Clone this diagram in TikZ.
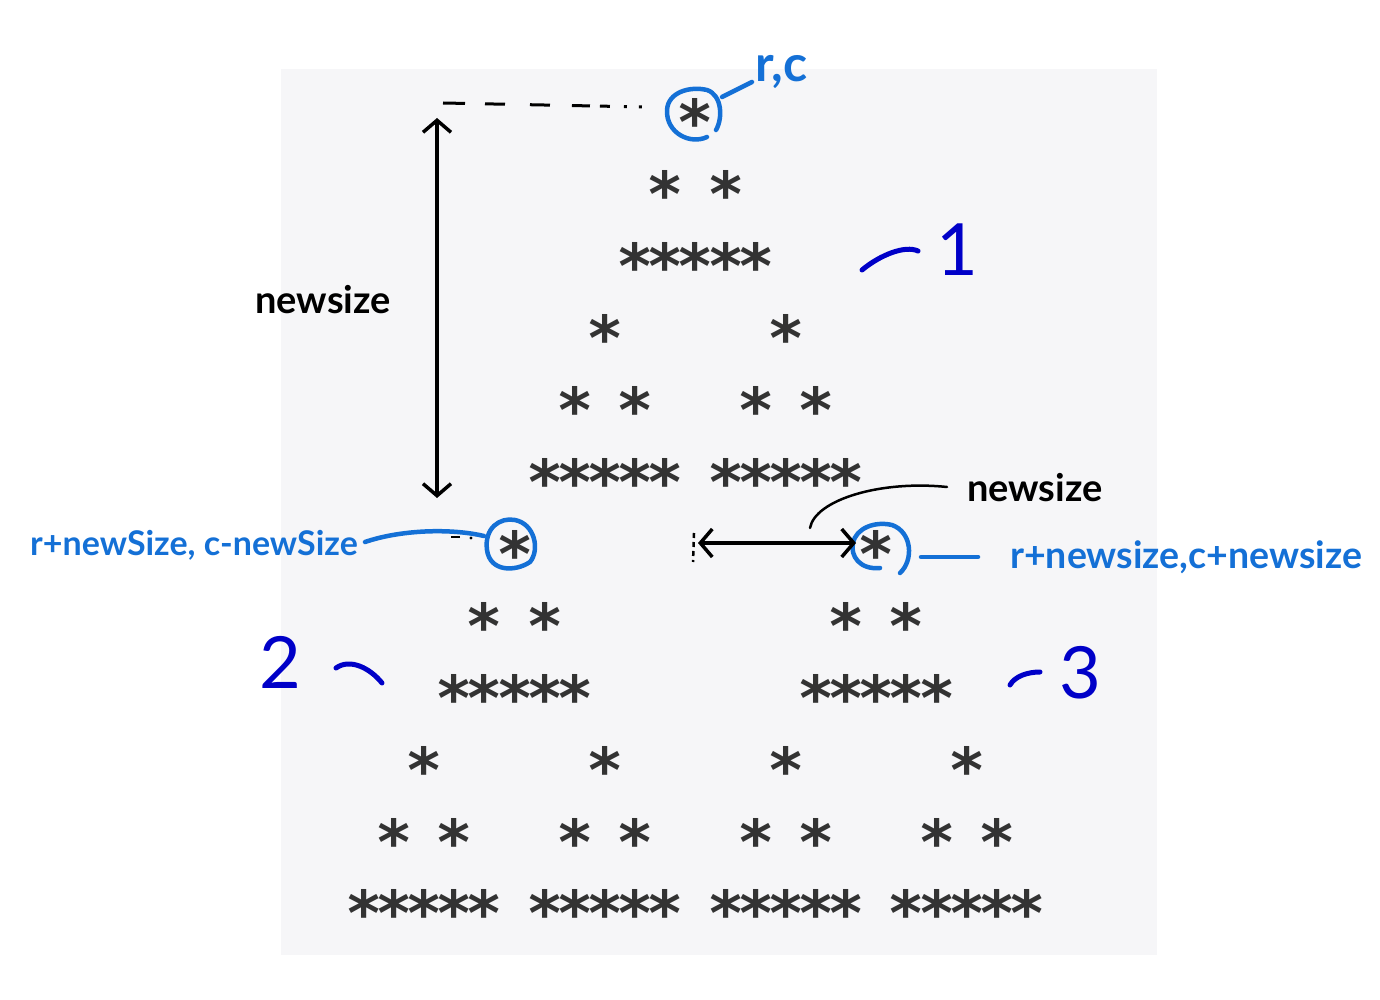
\documentclass[tikz,border=0pt]{standalone}
\usepackage{fontspec}
\usetikzlibrary{arrows.meta}
\newfontfamily\starfont{DejaVu Sans Mono}
\newfontfamily\handfont{Lato}
\definecolor{bgpanel}{HTML}{F6F6F8}
\definecolor{stargray}{HTML}{333333}
\definecolor{annblue}{HTML}{1470D6}
\definecolor{numblue}{HTML}{0000C8}
\tikzset{
  starglyph/.style={inner sep=0pt, anchor=base, text=stargray, font=\starfont\bfseries\fontsize{62}{62}\selectfont},
  bluestroke/.style={draw=annblue, line width=4.5pt, line cap=round, line join=round},
  numstroke/.style={draw=numblue, line width=5pt, line cap=round, line join=round},
  blackstroke/.style={draw=black, line width=3.5pt, line cap=round, line join=round},
  barbs/.style={{Straight Barb[length=12pt,width=28pt]}-{Straight Barb[length=12pt,width=28pt]}},
  handtext/.style={inner sep=0pt, font=\handfont\bfseries\fontsize{38}{38}\selectfont},
  bluetext/.style={inner sep=0pt, text=annblue, font=\handfont\bfseries\fontsize{34}{34}\selectfont},
  numtext/.style={inner sep=0pt, text=numblue, font=\handfont\fontsize{72}{72}\selectfont},
}
\begin{document}
\begin{tikzpicture}[x=1pt,y=-1pt]
\useasboundingbox (0,0) rectangle (1380,1000);
\fill[bgpanel] (281,69) rectangle (1157,955);
% stars
\foreach \R/\C in {0/9,3/6,3/12,6/3,9/0,9/6,6/15,9/12,9/18} {
  \foreach \r/\c in {0/2,1/1,1/3,2/0,2/1,2/2,2/3,2/4} {
    \pgfmathtruncatemacro{\row}{\R+\r}
    \pgfmathtruncatemacro{\col}{\C+\c}
    \coordinate (p-\row-\col) at ({364+\col*30.14},{113+\row*71.9});
    \node[starglyph] (s-\row-\col) at ([yshift=-32pt]p-\row-\col) {*};
  }
}
% dashed guide at top
\coordinate (dashA) at (443,103);
\coordinate (dashB) at (645,107);
\draw[black, line width=3pt, dash pattern=on 22pt off 20pt on 20pt off 25pt on 20pt off 22pt on 18pt off 10pt on 10pt off 14pt on 3pt off 12pt on 3pt off 20pt] (dashA) -- (dashB);
% vertical arrow
\coordinate (vtop) at (437,118);
\coordinate (vbot) at (437,498);
\draw[blackstroke, barbs] (vtop) -- (vbot);
\node[handtext] (nsL) at (323,300) {newsize};
% circle around top star
\draw[bluestroke] (707,137) .. controls (690,145) and (666,133) .. (667,110)
  .. controls (668,92) and (690,86) .. (707,90)
  .. controls (722,95) and (723,118) .. (716,130);
\coordinate (rcA) at (722,97);
\coordinate (rcB) at (752,82);
\draw[bluestroke] (rcA) -- (rcB);
\node[bluetext, anchor=west, font=\handfont\bfseries\fontsize{50}{50}\selectfont] (rc) at (755,72) {r,c};
% circle around left star
\draw[bluestroke] (530,562) .. controls (515,572) and (490,572) .. (487,550)
  .. controls (484,528) and (500,517) .. (515,520)
  .. controls (535,524) and (540,550) .. (530,562);
\coordinate (lA) at (484,536);
\coordinate (lB) at (365,542);
\draw[bluestroke] (lA) .. controls (450,528) and (400,530) .. (lB);
\draw[black, line width=2.5pt] (451,537) -- (460,537);
\fill[black] (471,538) circle (1.6pt);
\node[bluetext, anchor=east] (lt) at (358,545) {r+newSize, c-newSize};
% circle around right star
\draw[bluestroke] (880,568) .. controls (860,570) and (850,556) .. (853,543)
  .. controls (856,528) and (875,521) .. (892,525)
  .. controls (912,532) and (914,560) .. (900,573);
\coordinate (rA) at (921,557);
\coordinate (rB) at (978,557);
\draw[bluestroke] (rA) -- (rB);
\node[bluetext, anchor=west, font=\handfont\bfseries\fontsize{37.5}{37.5}\selectfont] (rt) at (1010,557) {r+newsize,c+newsize};
% horizontal arrow
\coordinate (hL) at (698,543);
\coordinate (hR) at (856,543);
\draw[blackstroke, barbs] (hL) -- (hR);
\draw[black, line width=2.5pt, dash pattern=on 5pt off 4pt] (694,533) -- (693,562);
% newsize label near horizontal arrow
\node[handtext, anchor=west] (nsR) at (967,488) {newsize};
\coordinate (cA) at (810,528);
\coordinate (cB) at (947,487);
\draw[black, line width=2.5pt, line cap=round] (cA) .. controls (815,500) and (880,480) .. (cB);
% group labels
\draw[numstroke] (862,270) .. controls (880,255) and (905,245) .. (918,251);
\node[numtext] (n1) at (957,250) {1};
\node[numtext] (n2) at (280,662) {2};
\draw[numstroke] (336,668) .. controls (350,658) and (370,668) .. (382,683);
\draw[numstroke] (1010,685) .. controls (1015,676) and (1028,672) .. (1040,672);
\node[numtext] (n3) at (1080,673) {3};
\end{tikzpicture}
\end{document}
